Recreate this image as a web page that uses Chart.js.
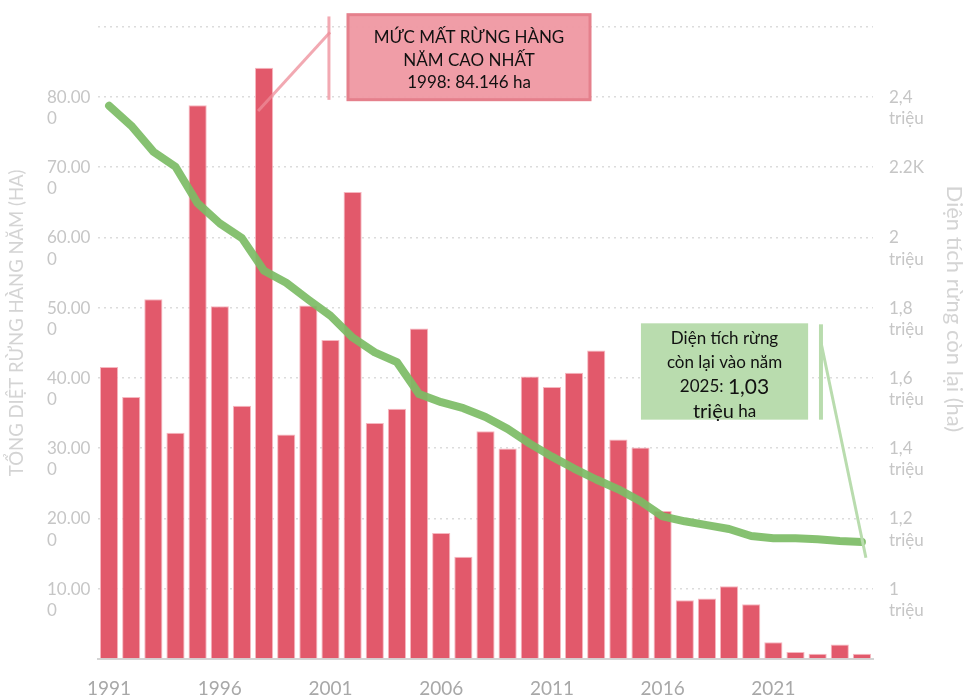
<!DOCTYPE html>
<html>
<head>
<meta charset="utf-8">
<script src="https://cdn.jsdelivr.net/npm/chart.js@4/dist/chart.umd.min.js"></script>
<style>
  html, body { margin: 0; padding: 0; background: #ffffff; }
  #wrap { width: 966px; height: 699px; }
</style>
</head>
<body>
<div id="wrap"><canvas id="c" width="966" height="699"></canvas></div>
<script>
// ---------- DATA ----------
const years = ['1991','1992','1993','1994','1995','1996','1997','1998','1999','2000',
               '2001','2002','2003','2004','2005','2006','2007','2008','2009','2010',
               '2011','2012','2013','2014','2015','2016','2017','2018','2019','2020',
               '2021','2022','2023','2024','2025'];

// annual deforestation (ha) — left axis
const annualLoss = [41550, 37300, 51200, 32200, 78800, 50200, 36050, 84146, 31950, 50300,
                    45400, 66450, 33600, 35600, 47050, 17950, 14550, 32400, 29950, 40200,
                    38700, 40750, 43900, 31250, 30100, 21050, 8350, 8600, 10350, 7800,
                    2400, 1000, 750, 2050, 750];

// remaining forest area (ha) — right axis
const remainingForest = [2375000, 2318000, 2244000, 2201000, 2097000, 2040000, 1998000, 1905000, 1871000, 1823000,
                         1777000, 1715000, 1673000, 1645000, 1554000, 1531000, 1514000, 1489000, 1455000, 1413000,
                         1376000, 1342000, 1311000, 1283000, 1249000, 1206000, 1192000, 1181000, 1170000, 1150000,
                         1144000, 1144000, 1141000, 1136000, 1133000];

// tick labels
const leftTickLabels = ['', ['10.00','0'], ['20.00','0'], ['30.00','0'], ['40.00','0'],
                        ['50.00','0'], ['60.00','0'], ['70.00','0'], ['80.00','0'], ''];
const rightTickLabels = ['', ['1','triệu'], ['1,2','triệu'], ['1,4','triệu'], ['1,6','triệu'],
                         ['1,8','triệu'], ['2','triệu'], ['2.2K',''], ['2,4','triệu'], ''];
const xTickEvery = 5;

const leftTitle = 'TỔNG DIỆT RỪNG HÀNG NĂM (HA)';
const rightTitle = 'Diện tích rừng còn lại (ha)';
const peakNote = ['MỨC MẤT RỪNG HÀNG', 'NĂM CAO NHẤT', '1998: 84.146 ha'];
const endNote = [[['Diện tích rừng', 17]], [['còn lại vào năm', 17]], [['2025: ', 17], ['1,03', 21]], [['triệu', 20], [' ha', 17]]];

// ---------- CHART ----------
const FONT = 'Lato, "Open Sans", "DejaVu Sans", sans-serif';

const annotationPlugin = {
  id: 'notes',
  afterDatasetsDraw(chart) {
    const ctx = chart.ctx;
    const x = chart.scales.x, yl = chart.scales.yL;
    const px = i => x.getPixelForValue(i);
    const py = v => yl.getPixelForValue(v);
    ctx.save();

    // ---- peak (1998) callout ----
    ctx.lineCap = 'butt';
    ctx.strokeStyle = 'rgba(238,140,152,0.75)';
    ctx.lineWidth = 3;
    ctx.beginPath();
    ctx.moveTo(px(9.98), py(89200));
    ctx.lineTo(px(6.73), py(78000));
    ctx.stroke();
    ctx.beginPath();
    ctx.moveTo(px(9.93), py(91450));
    ctx.lineTo(px(9.93), py(79580));
    ctx.stroke();

    const bx0 = px(10.79), bx1 = px(21.72), by0 = py(91700), by1 = py(79600);
    ctx.fillStyle = 'rgba(239,152,162,0.95)';
    ctx.fillRect(bx0, by0, bx1 - bx0, by1 - by0);
    ctx.strokeStyle = '#e5808c';
    ctx.lineWidth = 3;
    ctx.strokeRect(bx0, by0, bx1 - bx0, by1 - by0);

    ctx.fillStyle = '#111111';
    ctx.textAlign = 'center';
    ctx.textBaseline = 'middle';
    ctx.font = '17px ' + FONT;
    const tcx = (bx0 + bx1) / 2;
    const peakY = [88500, 85200, 82050];
    peakNote.forEach((t, k) => ctx.fillText(t, tcx, py(peakY[k])));

    // ---- end (2025) callout ----
    const gx0 = px(24.02), gx1 = px(31.57), gy0 = py(47774), gy1 = py(34064);
    ctx.fillStyle = '#b9dcae';
    ctx.fillRect(gx0, gy0, gx1 - gx0, gy1 - gy0);
    ctx.strokeStyle = 'rgba(185,220,174,1)';
    ctx.lineWidth = 4;
    ctx.beginPath();
    ctx.moveTo(px(32.15), py(47633));
    ctx.lineTo(px(32.15), py(34064));
    ctx.stroke();
    ctx.lineWidth = 3;
    ctx.beginPath();
    ctx.moveTo(px(32.15), py(45088));
    ctx.lineTo(px(34.18), py(14417));
    ctx.stroke();

    ctx.fillStyle = '#111111';
    ctx.textAlign = 'left';
    const gcx = (gx0 + gx1) / 2;
    const endY = [45654, 42261, 38728, 35194];
    endNote.forEach((runs, k) => {
      let w = 0;
      runs.forEach(r => { ctx.font = r[1] + 'px ' + FONT; w += ctx.measureText(r[0]).width; });
      let cx = gcx - w / 2;
      runs.forEach(r => {
        ctx.font = r[1] + 'px ' + FONT;
        ctx.fillText(r[0], cx, py(endY[k]));
        cx += ctx.measureText(r[0]).width;
      });
    });
    ctx.restore();
  },
  afterDraw(chart) {
    const ctx = chart.ctx;
    const a = chart.chartArea;
    const mid = (a.top + a.bottom) / 2;
    ctx.save();
    ctx.fillStyle = '#d4d4d4';
    ctx.font = '18.5px ' + FONT;
    ctx.textAlign = 'center';
    ctx.textBaseline = 'middle';
    ctx.translate(17, mid - 20);
    ctx.rotate(-Math.PI / 2);
    ctx.fillText(leftTitle, 0, 0);
    ctx.restore();

    ctx.save();
    ctx.fillStyle = '#d4d4d4';
    ctx.font = '22px ' + FONT;
    ctx.textAlign = 'center';
    ctx.textBaseline = 'middle';
    ctx.translate(954, mid - 34);
    ctx.rotate(Math.PI / 2);
    ctx.fillText(rightTitle, 0, 0);
    ctx.restore();
  }
};

new Chart(document.getElementById('c'), {
  data: {
    labels: years,
    datasets: [
      {
        type: 'line',
        label: 'Diện tích rừng còn lại',
        data: remainingForest,
        yAxisID: 'yR',
        borderColor: 'rgba(124,188,101,0.92)',
        borderWidth: 8,
        borderCapStyle: 'round',
        borderJoinStyle: 'round',
        pointRadius: 0,
        tension: 0,
        order: 0
      },
      {
        type: 'bar',
        label: 'Mất rừng hàng năm',
        data: annualLoss,
        yAxisID: 'yL',
        backgroundColor: '#e2596b',
        borderColor: 'rgba(245,175,185,0.9)',
        borderWidth: 1,
        barPercentage: 0.82,
        categoryPercentage: 1.0,
        order: 1
      }
    ]
  },
  options: {
    responsive: false,
    animation: false,
    layout: { padding: { top: 22, left: 47, right: 0, bottom: 0 } },
    plugins: { legend: { display: false }, tooltip: { enabled: false } },
    scales: {
      x: {
        type: 'category',
        afterFit: s => { s.height = 40; },
        grid: { display: false, drawTicks: false },
        border: { display: true, color: '#d4d4d4', width: 2 },
        ticks: {
          autoSkip: false, maxRotation: 0, minRotation: 0, padding: 18,
          color: '#a8a8a8', font: { family: FONT, size: 19 },
          callback: (v, i) => (i % xTickEvery === 0 ? years[i] : '')
        }
      },
      yL: {
        type: 'linear', position: 'left', min: 0, max: 90000,
        afterFit: s => { s.width = 51; },
        grid: { color: '#dcdcdc', lineWidth: 1.5, drawTicks: false },
        border: { display: false, dash: [2, 4] },
        ticks: {
          stepSize: 10000, crossAlign: 'far', padding: 0, labelOffset: 11,
          color: '#c6c6c6', font: { family: FONT, size: 17, lineHeight: 1.25 },
          callback: (v, i) => leftTickLabels[i]
        }
      },
      yR: {
        type: 'linear', position: 'right', min: 800000, max: 2600000,
        afterFit: s => { s.width = 93; },
        grid: { display: false, drawTicks: false },
        border: { display: false },
        ticks: {
          stepSize: 200000, crossAlign: 'near', padding: 16, labelOffset: 11,
          color: '#c6c6c6', font: { family: FONT, size: 17, lineHeight: 1.25 },
          callback: (v, i) => rightTickLabels[i]
        }
      }
    }
  },
  plugins: [annotationPlugin]
});
</script>
</body>
</html>
